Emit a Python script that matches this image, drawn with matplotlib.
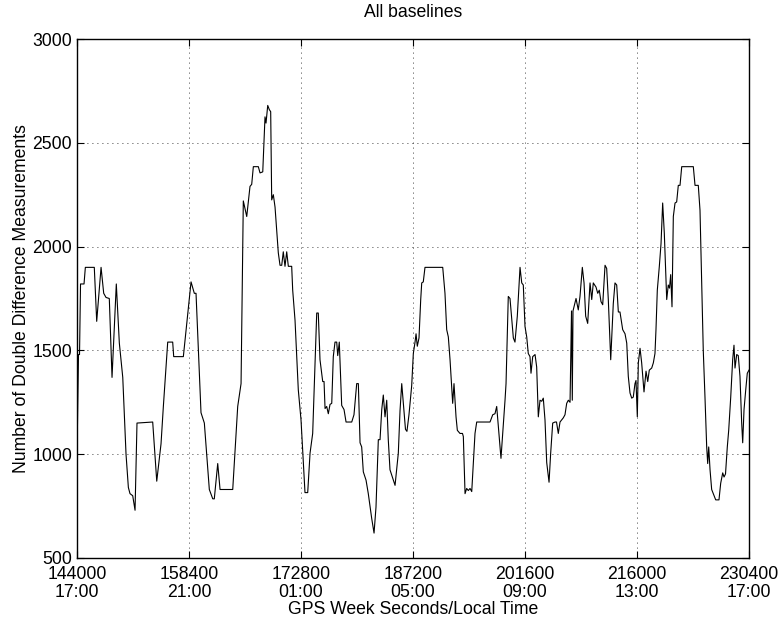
import numpy as np
import matplotlib.pyplot as plt

plt.rcParams['font.family'] = ['Liberation Sans', 'DejaVu Sans']

gps_sec = [
    144000, 144190, 144320, 144450, 144900, 145070, 146220, 146530, 147090, 147430,
    147730, 148150, 148500, 149050, 149440, 149880, 150300, 150600, 150810, 151160,
    151460, 151710, 153730, 154250, 154800, 155100, 155660, 156300, 156430, 157670,
    158660, 159080, 159300, 159940, 160370, 161010, 161450, 161650, 162090, 162390,
    164020, 164660, 165090, 165380, 165820, 166240, 166460, 166670, 167310, 167530,
    167880, 168170, 168300, 168520, 168720, 168900, 169030, 169240, 169460, 169880,
    170100, 170320, 170520, 170740, 170960, 171170, 171600, 171730, 172030, 172450,
    172800, 173310, 173660, 173960, 174300, 174600, 174820, 175020, 175240, 175590,
    175760, 175890, 176100, 176310, 176530, 176750, 176950, 177170, 177390, 177520,
    177720, 178030, 178330, 178590, 179320, 179610, 179960, 180170, 180390, 180600,
    180810, 181160, 181450, 181890, 182190, 182440, 182740, 182960, 183180, 183380,
    183600, 183820, 184020, 184240, 184890, 185310, 185530, 185750, 185950, 186230,
    186420, 186680, 187030, 187240, 187460, 187590, 187750, 187970, 188190, 188320,
    188520, 188740, 191020, 191310, 191530, 191740, 191960, 192300, 192470, 192730,
    192900, 193240, 193560, 193670, 193890, 194100, 194310, 194530, 194750, 195170,
    195390, 197100, 197450, 197740, 197960, 198510, 199030, 199160, 199450, 199670,
    200100, 200310, 200610, 200960, 201180, 201380, 201600, 201820, 202020, 202240,
    202370, 202590, 202890, 203100, 203310, 203530, 203750, 203950, 204170, 204390,
    204690, 204900, 205160, 205460, 205650, 205880, 206100, 206520, 206740, 206960,
    207170, 207390, 207580, 207680, 207770, 208160, 208450, 208670, 208970, 209190,
    209400, 209660, 209960, 210180, 210380, 210730, 210950, 211150, 211370, 211590,
    211890, 212100, 212310, 212620, 212950, 213170, 213390, 213600, 213810, 214160,
    214460, 214680, 214880, 215100, 215320, 215520, 215740, 215870, 216040, 216170,
    216390, 216600, 216900, 217160, 217380, 217580, 217890, 218100, 218310, 218440,
    218610, 218870, 219090, 219300, 219510, 219820, 220020, 220180, 220330, 220500,
    220670, 220890, 221100, 221310, 221530, 221750, 223240, 223460, 223880, 224100,
    224320, 224520, 224740, 224960, 225090, 225220, 225390, 225600, 225810, 226120,
    226540, 226760, 227020, 227190, 227380, 227610, 227790, 228050, 228300, 228470,
    228600, 228820, 229020, 229240, 229460, 229590, 229760, 229980, 230180, 230400,
]
n_dd = [
    1000, 1480, 1480, 1820, 1820, 1900, 1900, 1640, 1900, 1775,
    1755, 1750, 1370, 1820, 1535, 1370, 1000, 840, 810, 800,
    730, 1150, 1155, 870, 1050, 1230, 1540, 1540, 1470, 1470,
    1830, 1775, 1775, 1200, 1150, 830, 785, 785, 955, 830,
    830, 1230, 1340, 2220, 2145, 2290, 2300, 2385, 2385, 2355,
    2360, 2625, 2595, 2680, 2660, 2650, 2225, 2250, 2190, 1970,
    1910, 1910, 1975, 1905, 1975, 1905, 1905, 1790, 1645, 1310,
    1165, 815, 815, 1005, 1100, 1440, 1680, 1680, 1455, 1350,
    1350, 1220, 1230, 1195, 1240, 1245, 1470, 1540, 1540, 1475,
    1540, 1235, 1215, 1155, 1155, 1190, 1340, 1340, 1055, 1035,
    915, 875, 810, 690, 620, 745, 1070, 1070, 1215, 1285,
    1180, 1260, 1070, 925, 850, 1005, 1210, 1340, 1250, 1120,
    1110, 1190, 1330, 1485, 1540, 1580, 1520, 1560, 1745, 1825,
    1830, 1900, 1900, 1775, 1600, 1565, 1455, 1245, 1340, 1180,
    1115, 1100, 1100, 1085, 810, 835, 825, 835, 820, 1100,
    1155, 1155, 1190, 1195, 1230, 980, 1260, 1340, 1760, 1750,
    1560, 1540, 1665, 1900, 1825, 1815, 1615, 1565, 1485, 1470,
    1390, 1470, 1480, 1420, 1180, 1260, 1255, 1270, 1165, 960,
    865, 1005, 1150, 1155, 1155, 1100, 1155, 1175, 1190, 1245,
    1260, 1250, 1690, 1260, 1690, 1750, 1695, 1760, 1900, 1825,
    1665, 1630, 1825, 1745, 1825, 1805, 1775, 1790, 1735, 1720,
    1910, 1895, 1745, 1455, 1725, 1825, 1815, 1685, 1685, 1600,
    1580, 1535, 1375, 1295, 1270, 1275, 1340, 1355, 1180, 1440,
    1510, 1440, 1300, 1400, 1350, 1405, 1415, 1440, 1485, 1600,
    1790, 1905, 2015, 2210, 2065, 1745, 1815, 1800, 1865, 1710,
    2145, 2210, 2215, 2295, 2295, 2385, 2385, 2295, 2295, 2175,
    1825, 1500, 1275, 1035, 955, 1035, 925, 830, 810, 780,
    780, 860, 910, 890, 905, 1035, 1115, 1275, 1455, 1525,
    1415, 1480, 1475, 1375, 1150, 1055, 1215, 1310, 1390, 1405,
]

tick_sec = [144000, 158400, 172800, 187200, 201600, 216000, 230400]
tick_time = ['17:00', '21:00', '01:00', '05:00', '09:00', '13:00', '17:00']

fs = 12.7

fig = plt.figure(figsize=(7.82, 6.25), dpi=100)
ax = fig.add_axes([0.0985, 0.1072, 0.8593, 0.8304])

ax.plot(gps_sec, n_dd, color='black', linewidth=0.8)

ax.set_xlim(144000, 230400)
ax.set_ylim(500, 3000)
ax.set_xticks(tick_sec)
ax.set_xticklabels([f'{s}\n{t}' for s, t in zip(tick_sec, tick_time)],
                   linespacing=1.1)
ax.set_yticks(np.arange(500, 3001, 500))

ax.grid(True, color='black', linestyle=(0, (1, 5)), linewidth=0.6)
ax.tick_params(direction='in', top=True, right=True, length=5, width=0.8,
               labelsize=fs)
ax.tick_params(axis='x', pad=5.5)
ax.tick_params(axis='y', pad=3.5)
for sp in ax.spines.values():
    sp.set_linewidth(1.0)

ax.set_title('All baselines', fontsize=fs, pad=16)
ax.set_xlabel('GPS Week Seconds/Local Time', fontsize=fs, labelpad=0)
ax.set_ylabel('Number of Double Difference Measurements', fontsize=fs, labelpad=2)

fig.savefig('out.png', dpi=100)
